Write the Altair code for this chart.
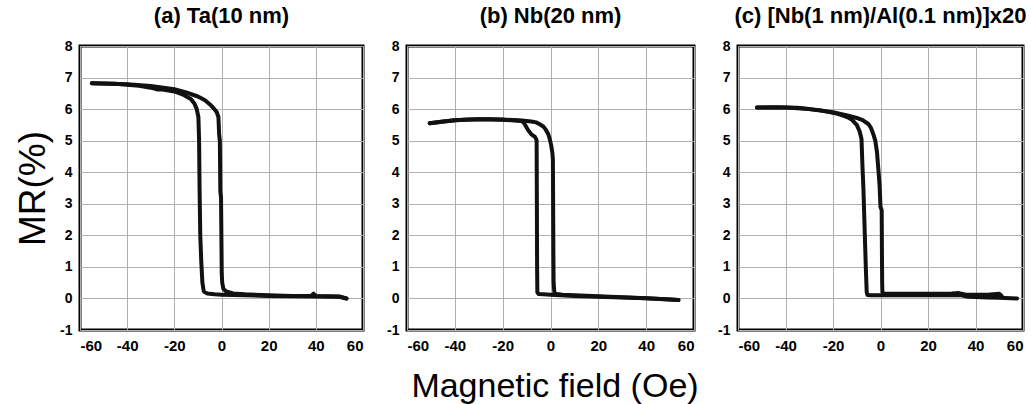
import altair as alt
import pandas as pd

# Field sweep points (Oe) and magnetoresistance (%) for each sample.
# Each loop is drawn as two branches: the one switching at negative field
# and the one switching near zero field.
TA_L_H = [-55, -45, -35, -30, -27, -25, -20, -16, -13, -11.5, -10.5, -9.8, -9.5, -9.3,
          -9.0, -8.6, -8.1, -7.5, -6, -3, 0, 10, 20, 30, 40, 50, 53]
TA_L_MR = [6.82, 6.80, 6.74, 6.68, 6.62, 6.62, 6.56, 6.45, 6.32, 6.18, 6.0, 5.75, 5.0, 3.5,
           2.0, 1.2, 0.5, 0.22, 0.16, 0.13, 0.12, 0.10, 0.08, 0.07, 0.06, 0.05, 0.0]
TA_R_H = [-55, -40, -30, -20, -15, -10, -7, -4.5, -3, -2, -1.3, -1.0, -0.7, -0.5, -0.2,
          0.1, 0.3, 0.8, 2, 5, 10, 20, 30, 38, 39, 40, 50, 53]
TA_R_MR = [6.82, 6.79, 6.73, 6.63, 6.53, 6.40, 6.28, 6.12, 6.0, 5.9, 5.75, 5.2, 5.0, 3.4, 3.2,
           0.8, 0.5, 0.3, 0.22, 0.16, 0.13, 0.10, 0.08, 0.08, 0.15, 0.08, 0.06, 0.0]

NB_L_H = [-50.5, -45, -40, -35, -30, -25, -20, -15, -12, -11, -9.5, -8, -6.5, -6, -5.8,
          -5.7, -5.6, -5.5, -5, -3, 0, 10, 20, 30, 40, 50, 53.5]
NB_L_MR = [5.55, 5.61, 5.65, 5.67, 5.68, 5.68, 5.66, 5.64, 5.62, 5.55, 5.35, 5.2, 5.12, 5.05, 5.0,
           3.0, 1.0, 0.2, 0.14, 0.13, 0.12, 0.08, 0.05, 0.03, 0.01, -0.03, -0.05]
NB_R_H = [-50.5, -40, -30, -20, -12, -8, -6, -4.5, -3, -2, -1, -0.3, 0.3, 0.8, 1.0, 1.1,
          1.2, 1.3, 1.6, 2.5, 5, 10, 20, 30, 40, 50, 53.5]
NB_R_MR = [5.55, 5.65, 5.68, 5.67, 5.64, 5.61, 5.58, 5.52, 5.45, 5.35, 5.22, 5.05, 4.85, 4.6, 4.4, 3.0,
           1.5, 0.5, 0.2, 0.14, 0.12, 0.10, 0.07, 0.04, 0.01, -0.03, -0.05]

NC_L_H = [-52, -45, -35, -25, -18, -14, -12, -10, -8.8, -8.0, -7.6, -7.2, -6.6, -6.1, -5.8,
          -5.5, -4, 0, 10, 20, 30, 34, 37, 45, 50, 57.5]
NC_L_MR = [6.05, 6.06, 6.04, 5.96, 5.85, 5.75, 5.66, 5.5, 5.3, 5.05, 4.2, 3.5, 2.0, 0.8, 0.2,
           0.11, 0.10, 0.10, 0.10, 0.10, 0.11, 0.10, 0.05, 0.03, 0.02, 0.0]
NC_R_H = [-52, -40, -30, -20, -14, -10, -7.5, -5, -4, -3, -2.2, -1.5, -0.8, -0.4, 0, 0.5,
          0.6, 0.7, 0.8, 1.5, 5, 10, 20, 30, 33, 36, 45, 50, 51]
NC_R_MR = [6.05, 6.05, 6.0, 5.9, 5.8, 5.72, 5.65, 5.52, 5.4, 5.2, 5.0, 4.65, 4.0, 3.6, 2.9, 2.8,
           1.5, 0.5, 0.2, 0.15, 0.15, 0.15, 0.15, 0.16, 0.17, 0.12, 0.12, 0.15, 0.08]

TITLES = ["(a) Ta(10 nm)", "(b) Nb(20 nm)", "(c) [Nb(1 nm)/Al(0.1 nm)]x20"]
PANEL_WIDTHS = [283, 287, 285]
X_TICKS = [-60, -40, -20, 0, 20, 40, 60]
Y_TICKS = [-1, 0, 1, 2, 3, 4, 5, 6, 7, 8]
FONT = "Liberation Sans"


def loop_frame(branches):
    rows = []
    for name, hs, mrs in branches:
        for i, (h, mr) in enumerate(zip(hs, mrs)):
            rows.append({"branch": name, "idx": i, "field": h, "mr": mr})
    return pd.DataFrame(rows)


frames = [
    loop_frame([("low", TA_L_H, TA_L_MR), ("high", TA_R_H, TA_R_MR)]),
    loop_frame([("low", NB_L_H, NB_L_MR), ("high", NB_R_H, NB_R_MR)]),
    loop_frame([("low", NC_L_H, NC_L_MR), ("high", NC_R_H, NC_R_MR)]),
]

# plain hyphen for negative tick labels
PLAIN_LABEL = "'' + datum.value"


def panel(df, title, width, y_title=None, x_title=None):
    y_axis = alt.Axis(values=Y_TICKS, labelFontSize=14, labelExpr=PLAIN_LABEL, title=y_title,
                      titleFontSize=37, titleFontWeight="normal", titlePadding=7)
    x_axis = alt.Axis(values=X_TICKS, labelFontSize=15, labelExpr=PLAIN_LABEL, title=x_title,
                      titleFontSize=34, titleFontWeight="normal", titlePadding=16,
                      titleX=width / 2 + 4)
    return (
        alt.Chart(df)
        .mark_line(color="#111111", strokeWidth=4, strokeJoin="round", strokeCap="round")
        .encode(
            x=alt.X("field:Q", scale=alt.Scale(domain=[-60, 60], nice=False), axis=x_axis),
            y=alt.Y("mr:Q", scale=alt.Scale(domain=[-1, 8], nice=False), axis=y_axis),
            detail="branch:N",
            order="idx:Q",
        )
        .properties(
            width=width,
            height=284,
            title=alt.TitleParams(title, fontSize=22, fontWeight="bold", font=FONT,
                                  color="black", offset=11),
        )
    )


chart = (
    alt.hconcat(
        panel(frames[0], TITLES[0], PANEL_WIDTHS[0], y_title="MR(%)"),
        panel(frames[1], TITLES[1], PANEL_WIDTHS[1], x_title="Magnetic field (Oe)"),
        panel(frames[2], TITLES[2], PANEL_WIDTHS[2]),
        spacing=44,
        bounds="flush",
    )
    .properties(padding={"left": 13, "top": 3, "right": 0, "bottom": 2}, background="white")
    .configure_view(stroke="black", strokeWidth=3)
    .configure_axis(
        grid=True,
        gridColor="#b0b0b0",
        gridWidth=1,
        domain=False,
        ticks=False,
        labelFont=FONT,
        labelFontWeight="bold",
        labelColor="black",
        labelPadding=8,
        titleFont=FONT,
        titleColor="black",
    )
)

chart.save("out.html", embed_options={"renderer": "svg", "actions": False})
